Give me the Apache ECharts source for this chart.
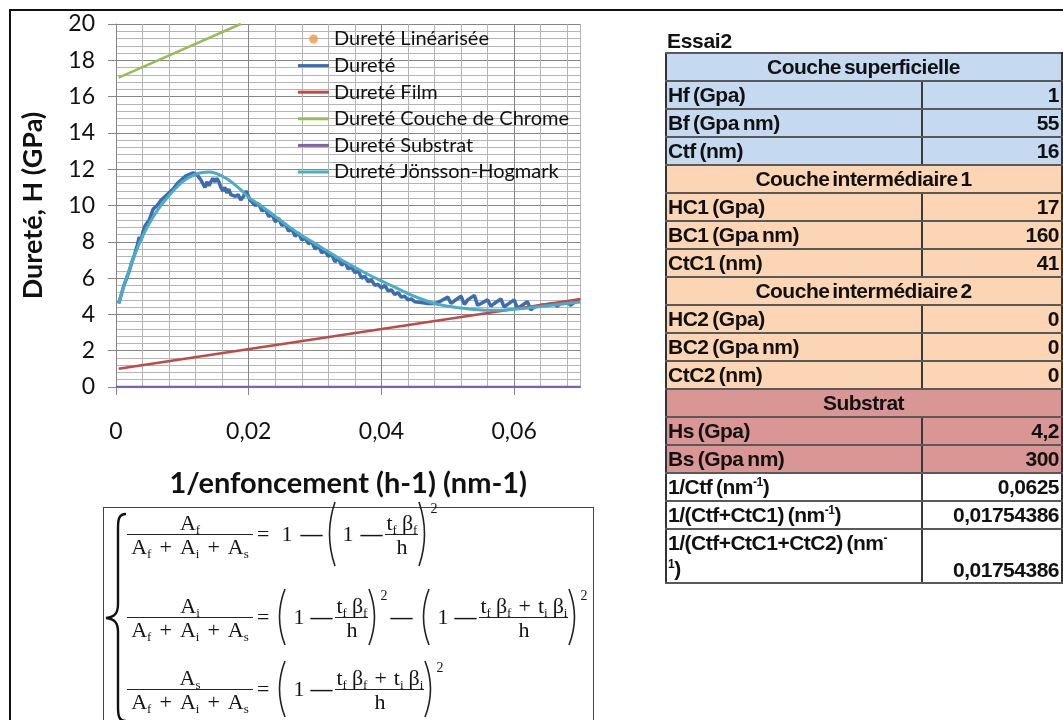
<!DOCTYPE html>
<html>
<head>
<meta charset="utf-8">
<script src="https://cdn.jsdelivr.net/npm/echarts@6/dist/echarts.min.js"></script>
<style>
  html, body { margin: 0; padding: 0; background: #fff; }
  #page { position: relative; width: 1063px; height: 720px; overflow: hidden; background: #fff; }
  #chart { position: absolute; left: 0; top: 0; width: 1063px; height: 720px; }
  #frame { position: absolute; left: 9px; top: 9px; width: 1100px; height: 800px;
           border-left: 2px solid #111; border-top: 2px solid #111; pointer-events: none; }
  #essai { position: absolute; left: 667px; top: 29px; font: bold 21px "Liberation Sans", Arial, sans-serif;
           letter-spacing: -0.3px; color: #111; }
  #params { position: absolute; left: 665px; top: 52px; width: 396px; border-collapse: collapse;
            table-layout: fixed; font: bold 21px "Liberation Sans", Arial, sans-serif; color: #111;
            letter-spacing: -0.5px; word-spacing: -1.5px; }
  #params td { height: 26px; padding: 0 2px 0 1px; line-height: 24px; border-top: 2px solid #595959;
               border-bottom: 2px solid #595959; white-space: nowrap; overflow: hidden; }
  #params td.lab { border-left: 2px solid #333; border-right: 2px solid #3a3a3a; }
  #params td.val { text-align: right; border-right: 2px solid #333; }
  #params td.head { text-align: center; border-left: 2px solid #333; border-right: 2px solid #333; word-spacing: -2.5px; }
  #params td.tall { height: 51px; vertical-align: bottom; white-space: normal; }
  #params td.lab.tall { vertical-align: top; line-height: 26px; }
  #params sup { font-size: 12px; line-height: 0; vertical-align: 8px; }

  #formula { position: absolute; left: 103px; top: 507px; width: 489px; height: 260px;
             border: 1.5px solid #444; background: #fff;
             font-family: "Liberation Serif", "DejaVu Serif", serif; font-size: 22px; color: #151515; }
  #formula svg.brace { position: absolute; left: 0; top: 0; }
  .eq { position: absolute; left: 23px; display: flex; align-items: center; transform: translateY(-50%); white-space: nowrap; }
  .fr { display: inline-flex; flex-direction: column; align-items: stretch; text-align: center; }
  .fr .n { line-height: 23px; padding: 0 1px; border-bottom: 1.5px solid #222; }
  .fr .d { line-height: 23px; padding: 0 1px; }
  .fr.big { width: 126px; }
  .pl { margin: 0 8px; }
  .pt { margin: 0 7px; }
  .b { margin-left: 5px; }
  .eq sub { font-size: 13px; line-height: 0; vertical-align: -4px; }
  .mn { font-weight: bold; }
  .p2 { font-size: 14px; align-self: flex-start; }
  svg.par { display: block; }
</style>
</head>
<body>
<div id="page">
  <div id="chart"></div>
  <div id="frame"></div>
  <div id="essai">Essai2</div>
  <table id="params"><colgroup><col style="width:256px"><col style="width:140px"></colgroup><tbody id="paramBody"></tbody></table>

  <div id="formula">
    <svg class="brace" width="30" height="230">
      <path d="M22,6 C15,6 14,11 14,20 L14,96 C14,105 11,109 2,110 C11,111 14,115 14,124 L14,199 C14,208 15,213 22,213"
            fill="none" stroke="#111" stroke-width="2.4"/>
    </svg>

    <div class="eq" style="top:26px">
      <span class="fr big"><span class="n">A<sub>f</sub></span><span class="d">A<sub>f</sub><span class="pl">+</span>A<sub>i</sub><span class="pl">+</span>A<sub>s</sub></span></span>
      <span style="margin-left:4px">=</span>
      <span style="margin-left:12px">1</span>
      <span class="mn" style="margin-left:8px">—</span>
      <svg class="par" width="13" height="66" style="margin-left:2px"><path d="M11,1 Q0,33 11,65" fill="none" stroke="#222" stroke-width="1.6"/></svg>
      <span style="margin-left:5px">1</span>
      <span class="mn" style="margin-left:7px">—</span>
      <span class="fr" style="margin-left:3px"><span class="n">t<sub>f</sub><span class="b">β</span><sub>f</sub></span><span class="d">h</span></span>
      <svg class="par" width="12" height="66"><path d="M1,1 Q12,33 1,65" fill="none" stroke="#222" stroke-width="1.6"/></svg>
      <span class="p2">2</span>
    </div>

    <div class="eq" style="top:109px">
      <span class="fr big"><span class="n">A<sub>i</sub></span><span class="d">A<sub>f</sub><span class="pl">+</span>A<sub>i</sub><span class="pl">+</span>A<sub>s</sub></span></span>
      <span style="margin-left:4px">=</span>
      <svg class="par" width="13" height="58" style="margin-left:5px"><path d="M11,1 Q0,29 11,57" fill="none" stroke="#222" stroke-width="1.6"/></svg>
      <span style="margin-left:6px">1</span>
      <span class="mn" style="margin-left:6px">—</span>
      <span class="fr" style="margin-left:3px"><span class="n">t<sub>f</sub><span class="b">β</span><sub>f</sub></span><span class="d">h</span></span>
      <svg class="par" width="12" height="58"><path d="M1,1 Q12,29 1,57" fill="none" stroke="#222" stroke-width="1.6"/></svg>
      <span class="p2">2</span>
      <span class="mn" style="margin-left:3px">—</span>
      <svg class="par" width="13" height="58" style="margin-left:6px"><path d="M11,1 Q0,29 11,57" fill="none" stroke="#222" stroke-width="1.6"/></svg>
      <span style="margin-left:6px">1</span>
      <span class="mn" style="margin-left:6px">—</span>
      <span class="fr" style="margin-left:3px"><span class="n">t<sub>f</sub><span class="b">β</span><sub>f</sub><span class="pt">+</span>t<sub>i</sub><span class="b">β</span><sub>i</sub></span><span class="d">h</span></span>
      <svg class="par" width="12" height="58"><path d="M1,1 Q12,29 1,57" fill="none" stroke="#222" stroke-width="1.6"/></svg>
      <span class="p2">2</span>
    </div>

    <div class="eq" style="top:181px">
      <span class="fr big"><span class="n">A<sub>s</sub></span><span class="d">A<sub>f</sub><span class="pl">+</span>A<sub>i</sub><span class="pl">+</span>A<sub>s</sub></span></span>
      <span style="margin-left:4px">=</span>
      <svg class="par" width="13" height="58" style="margin-left:5px"><path d="M11,1 Q0,29 11,57" fill="none" stroke="#222" stroke-width="1.6"/></svg>
      <span style="margin-left:6px">1</span>
      <span class="mn" style="margin-left:6px">—</span>
      <span class="fr" style="margin-left:3px"><span class="n">t<sub>f</sub><span class="b">β</span><sub>f</sub><span class="pt">+</span>t<sub>i</sub><span class="b">β</span><sub>i</sub></span><span class="d">h</span></span>
      <svg class="par" width="12" height="58"><path d="M1,1 Q12,29 1,57" fill="none" stroke="#222" stroke-width="1.6"/></svg>
      <span class="p2">2</span>
    </div>
  </div>
</div>

<script>
// ---- Measured hardness, H (GPa) against 1/h (nm^-1) ----
const dureteX = [
  0.0004, 0.0008, 0.0012, 0.0016, 0.002, 0.0024, 0.0028, 0.0032, 0.0035, 0.0038,
  0.0041, 0.0044, 0.0047, 0.005, 0.0053, 0.0056, 0.0059, 0.0062, 0.0065, 0.0068,
  0.0071, 0.0074, 0.0077, 0.008, 0.0083, 0.0086, 0.0089, 0.0092, 0.0095, 0.0098,
  0.0101, 0.0104, 0.0107, 0.011, 0.0113, 0.0116, 0.0119, 0.0122, 0.0125, 0.0128,
  0.0131, 0.0134, 0.0137, 0.014, 0.0143, 0.0146, 0.0149, 0.0152, 0.0155, 0.0158,
  0.0161, 0.0164, 0.0167, 0.017, 0.0173, 0.0176, 0.018, 0.0184, 0.0188, 0.0192,
  0.0196, 0.0199, 0.0202, 0.0205, 0.021, 0.0215, 0.022, 0.0225, 0.023, 0.0235,
  0.024, 0.0245, 0.025, 0.0255, 0.026, 0.0265, 0.027, 0.0275, 0.028, 0.0285,
  0.029, 0.0295, 0.030, 0.0305, 0.031, 0.0315, 0.032, 0.0325, 0.033, 0.0335,
  0.034, 0.0345, 0.035, 0.0355, 0.036, 0.0365, 0.037, 0.0375, 0.038, 0.0385,
  0.039, 0.0395, 0.040, 0.0405, 0.041, 0.0415, 0.042, 0.0425, 0.043, 0.0435,
  0.044, 0.0445, 0.045, 0.046, 0.047, 0.048, 0.049, 0.050, 0.0505, 0.051,
  0.052, 0.0525, 0.053, 0.054, 0.0545, 0.055, 0.056, 0.0565, 0.057, 0.058,
  0.0585, 0.059, 0.060, 0.0605, 0.061, 0.062, 0.0625, 0.063, 0.064, 0.065,
  0.066, 0.0665, 0.067, 0.068, 0.0685, 0.069, 0.0698
];
const dureteY = [
  4.6, 5.1, 5.6, 6.0, 6.4, 6.9, 7.3, 7.8, 8.25, 8.1,
  8.6, 8.9, 8.8, 9.2, 9.5, 9.8, 9.7, 10.0, 9.9, 10.3,
  10.2, 10.5, 10.4, 10.7, 10.6, 10.9, 10.8, 11.2, 11.1, 11.4,
  11.3, 11.6, 11.5, 11.7, 11.6, 11.8, 11.9, 11.7, 11.8, 11.4,
  11.2, 11.0, 11.3, 11.1, 11.3, 11.5, 11.3, 11.5, 11.3, 11.0,
  10.8, 11.0, 10.7, 10.9, 10.6, 10.7, 10.5, 10.6, 10.3, 10.5,
  10.8, 10.7, 10.3, 10.2, 10.0, 10.1, 9.7, 9.8, 9.4, 9.5,
  9.1, 9.3, 8.9, 9.0, 8.6, 8.7, 8.3, 8.5, 8.1, 8.2,
  7.9, 8.0, 7.6, 7.8, 7.4, 7.5, 7.2, 7.3, 6.9, 7.1,
  6.7, 6.9, 6.5, 6.6, 6.3, 6.4, 6.0, 6.1, 5.8, 5.9,
  5.6, 5.65, 5.45, 5.6, 5.3, 5.35, 5.1, 5.2, 4.95, 5.0,
  4.8, 4.85, 4.7, 4.65, 4.6, 4.6, 4.75, 4.95, 4.6, 4.75,
  5.0, 4.55, 4.8, 5.05, 4.5, 4.6, 4.8, 4.45, 4.6, 4.85,
  4.4, 4.55, 4.8, 4.35, 4.45, 4.7, 4.25, 4.4, 4.5, 4.55,
  4.6, 4.45, 4.6, 4.7, 4.5, 4.65, 4.8
];

// ---- Jönsson-Hogmark model curve ----
const jhX = [
  0.0004, 0.001, 0.002, 0.003, 0.004, 0.005, 0.006, 0.007, 0.008, 0.009,
  0.010, 0.011, 0.012, 0.013, 0.014, 0.015, 0.016, 0.017, 0.018, 0.019,
  0.020, 0.022, 0.024, 0.026, 0.028, 0.030, 0.032, 0.034, 0.036, 0.038,
  0.040, 0.042, 0.044, 0.046, 0.048, 0.050, 0.052, 0.054, 0.056, 0.058,
  0.060, 0.062, 0.064, 0.066, 0.068, 0.070
];
const jhY = [
  4.6, 5.35, 6.45, 7.45, 8.3, 9.0, 9.6, 10.1, 10.55, 10.95,
  11.3, 11.55, 11.72, 11.82, 11.84, 11.78, 11.62, 11.4, 11.12, 10.8,
  10.45, 9.95, 9.4, 8.85, 8.35, 7.9, 7.45, 7.0, 6.6, 6.2,
  5.85, 5.5, 5.15, 4.85, 4.6, 4.45, 4.35, 4.27, 4.23, 4.23,
  4.28, 4.35, 4.43, 4.52, 4.6, 4.68
];

// ---- Layer lines (end points) ----
const filmX = [0.0004, 0.07];
const filmY = [1.0, 4.85];
const chromeX = [0.0004, 0.0188];
const chromeY = [17.05, 20.0];
const substratX = [0, 0.07];
const substratY = [0, 0];
const lineariseeX = [];
const lineariseeY = [];

const xTickValues = [0, 0.02, 0.04, 0.06];

// ---- Parameter table ----
const supHead = ['Couche superficielle'];
const supRows = [['Hf (Gpa)', '1'], ['Bf (Gpa nm)', '55'], ['Ctf (nm)', '16']];
const int1Head = ['Couche intermédiaire 1'];
const int1Rows = [['HC1 (Gpa)', '17'], ['BC1 (Gpa nm)', '160'], ['CtC1 (nm)', '41']];
const int2Head = ['Couche intermédiaire 2'];
const int2Rows = [['HC2 (Gpa)', '0'], ['BC2 (Gpa nm)', '0'], ['CtC2 (nm)', '0']];
const subHead = ['Substrat'];
const subRows = [['Hs (Gpa)', '4,2'], ['Bs (Gpa nm)', '300']];
const invRows = [
  ['1/Ctf (nm<sup>-1</sup>)', '0,0625'],
  ['1/(Ctf+CtC1) (nm<sup>-1</sup>)', '0,01754386'],
  ['1/(Ctf+CtC1+CtC2) (nm<sup>-</sup><br><sup>1</sup>)', '0,01754386']
];

function zip(xs, ys) { return xs.map((x, i) => [x, ys[i]]); }

(function buildTable() {
  const body = document.getElementById('paramBody');
  function head(text, fill) {
    const tr = document.createElement('tr');
    tr.innerHTML = '<td class="head" colspan="2" style="background:' + fill + '">' + text + '</td>';
    body.appendChild(tr);
  }
  function rows(list, fill, lastTall) {
    list.forEach((r, i) => {
      const tr = document.createElement('tr');
      const tall = lastTall && i === list.length - 1 ? ' tall' : '';
      tr.innerHTML = '<td class="lab' + tall + '" style="background:' + fill + '">' + r[0] + '</td>' +
                     '<td class="val' + tall + '" style="background:' + fill + '">' + r[1] + '</td>';
      body.appendChild(tr);
    });
  }
  head(supHead[0], '#C5D9F1'); rows(supRows, '#C5D9F1');
  head(int1Head[0], '#FCD5B4'); rows(int1Rows, '#FCD5B4');
  head(int2Head[0], '#FCD5B4'); rows(int2Rows, '#FCD5B4');
  head(subHead[0], '#DA9694'); rows(subRows, '#DA9694');
  rows(invRows, '#FFFFFF', true);
})();

const lineIcon = 'path://M0,0 M31,16 M0,6.5 L31,6.5 L31,9.5 L0,9.5 Z';
const dotIcon = 'path://M0,0 M31,16 M20,8 A4.5,4.5 0 1 1 11,8 A4.5,4.5 0 1 1 20,8 Z';
const fmt = v => String(+(+v).toFixed(4)).replace('.', ',');

const chart = echarts.init(document.getElementById('chart'), null, { renderer: 'canvas' });
chart.setOption({
  animation: false,
  backgroundColor: '#fff',
  textStyle: { fontFamily: 'Lato' },
  grid: { left: 116, top: 24, width: 464.5, height: 363 },
  legend: {
    left: 298, top: 29, padding: 0, orient: 'vertical', itemWidth: 31, itemHeight: 16, itemGap: 6.6,
    selectedMode: false,
    textStyle: { fontSize: 20, color: '#111', fontFamily: 'Lato' },
    data: [
      { name: 'Dureté Linéarisée', icon: dotIcon },
      { name: 'Dureté', icon: lineIcon },
      { name: 'Dureté Film', icon: lineIcon },
      { name: 'Dureté Couche de Chrome', icon: lineIcon },
      { name: 'Dureté Substrat', icon: lineIcon },
      { name: 'Dureté Jönsson-Hogmark', icon: lineIcon }
    ]
  },
  xAxis: [
    {
      type: 'value', min: 0, max: 0.07, interval: 0.02, z: 1,
      axisLine: { show: true, onZero: false, lineStyle: { color: '#868686', width: 1 } },
      axisTick: { show: true, length: 8, customValues: xTickValues, lineStyle: { color: '#868686' } },
      axisLabel: { customValues: xTickValues, formatter: fmt, fontSize: 23, color: '#111', margin: 33 },
      splitLine: { show: true, lineStyle: { color: '#858585', width: 1 } },
      name: '1/enfoncement (h-1) (nm-1)', nameLocation: 'middle', nameGap: 82,
      nameTextStyle: { fontSize: 29, fontWeight: 'bold', color: '#111' }
    },
    {
      type: 'value', min: 0, max: 0.07, interval: 0.004, z: 0, position: 'bottom',
      axisLine: { show: false }, axisTick: { show: false }, axisLabel: { show: false },
      splitLine: { show: true, lineStyle: { color: '#b4b4b4', width: 1 } }
    }
  ],
  yAxis: {
    type: 'value', min: 0, max: 20, interval: 2,
    axisLine: { show: true, lineStyle: { color: '#868686', width: 1 } },
    axisTick: { show: true, length: 8, lineStyle: { color: '#868686' } },
    axisLabel: { fontSize: 23, color: '#111', margin: 8, padding: [0, 13, 0, 0] },
    splitLine: { show: true, lineStyle: { color: '#858585', width: 1 } },
    minorTick: { show: false, splitNumber: 5 },
    minorSplitLine: { show: true, lineStyle: { color: '#b4b4b4', width: 1 } },
    name: 'Dureté, H (GPa)', nameLocation: 'middle', nameGap: 69, nameMoveOverlap: false,
    nameTextStyle: { fontSize: 27, fontWeight: 'bold', color: '#111' }
  },
  series: [
    { name: 'Dureté Linéarisée', type: 'scatter', data: zip(lineariseeX, lineariseeY),
      symbolSize: 9, itemStyle: { color: '#F79646' } },
    { name: 'Dureté', type: 'line', data: zip(dureteX, dureteY), symbol: 'none',
      lineStyle: { width: 3.5, color: '#3D6DB0' }, itemStyle: { color: '#3D6DB0' } },
    { name: 'Dureté Film', type: 'line', data: zip(filmX, filmY), symbol: 'none',
      lineStyle: { width: 2.5, color: '#BE4B48' }, itemStyle: { color: '#BE4B48' } },
    { name: 'Dureté Couche de Chrome', type: 'line', data: zip(chromeX, chromeY), symbol: 'none',
      lineStyle: { width: 2.5, color: '#9BBB59' }, itemStyle: { color: '#9BBB59' } },
    { name: 'Dureté Substrat', type: 'line', data: zip(substratX, substratY), symbol: 'none',
      lineStyle: { width: 2.5, color: '#7E65A0' }, itemStyle: { color: '#7E65A0' } },
    { name: 'Dureté Jönsson-Hogmark', type: 'line', data: zip(jhX, jhY), symbol: 'none', smooth: 0.3,
      lineStyle: { width: 3, color: '#4BACC6' }, itemStyle: { color: '#4BACC6' } }
  ]
});
</script>
</body>
</html>
